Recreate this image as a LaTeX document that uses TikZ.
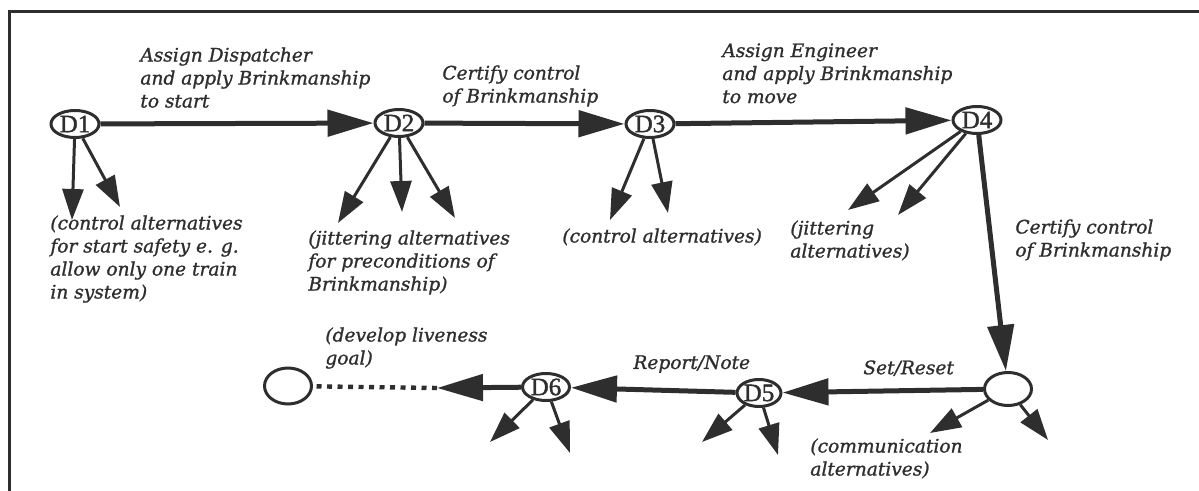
\documentclass[tikz,border=0pt]{standalone}
\usepackage{fontspec}
\setmainfont{DejaVu Serif}
\newfontfamily\lblfont{DejaVu Serif Italic}[FakeBold=1.2]
\newfontfamily\statefont{Liberation Serif}[FakeBold=1.5]
\usetikzlibrary{arrows.meta,shapes.geometric}
\definecolor{ink}{HTML}{2E2E2E}
\begin{document}
\begin{tikzpicture}[x=0.5pt,y=-0.5pt,color=ink,
  state/.style={ellipse,draw,line width=1.5pt,minimum width=24pt,minimum height=13.5pt,
    inner sep=0pt,font=\statefont\fontsize{12.5}{12.5}\selectfont},
  mainarrow/.style={line width=2.5pt,-{Triangle[length=23pt,width=13pt]}},
  altarrow/.style={line width=1.5pt,-{Triangle[length=15.5pt,width=10.5pt]}},
  lbl/.style={anchor=north west,inner sep=0pt,align=left,
    font=\lblfont\fontsize{9.3}{11.5}\selectfont}]
\useasboundingbox (0,0) rectangle (1199,491);

% frame
\draw[line width=1.5pt] (9,491) -- (9,12) -- (1199,12);

% decision states
\node[state] (D1) at (75,124) {D1};
\node[state] (D2) at (399,123) {D2};
\node[state] (D3) at (650,124) {D3};
\node[state] (D4) at (977,120) {D4};
\node[state,minimum width=23.5pt,minimum height=16.5pt] (E) at (1008,389) {};
\node[state,minimum width=22pt] (D5) at (759,393) {D5};
\node[state,minimum width=23.5pt] (D6) at (546,387) {D6};
\node[state,minimum width=23.5pt,minimum height=18pt] (G) at (288,386) {};
\coordinate (tip) at (437,388);

% main path
\draw[mainarrow] (D1) -- (D2);
\draw[mainarrow] (D2) -- (D3);
\draw[mainarrow] (D3) -- (D4);
\draw[mainarrow] (D4) -- (E);
\draw[mainarrow] (E) -- (D5);
\draw[mainarrow] (D5) -- (D6);
\draw[mainarrow] (D6) -- (tip);
\draw[line width=2.2pt,dash pattern=on 2.5pt off 2.75pt] (tip) -- (G);

% alternative branches
\coordinate (a1) at (72,220);   \coordinate (a2) at (120,207);
\coordinate (b1) at (338,223);  \coordinate (b2) at (402,212);  \coordinate (b3) at (455,218);
\coordinate (c1) at (610,220);  \coordinate (c2) at (668,213);
\coordinate (d1) at (848,210);  \coordinate (d2) at (898,215);
\coordinate (e1) at (930,433);  \coordinate (e2) at (1048,440);
\coordinate (f1) at (702,442);  \coordinate (f2) at (778,455);
\coordinate (g1) at (490,442);  \coordinate (g2) at (570,453);
\foreach \s/\t in {D1/a1,D1/a2,D2/b1,D2/b2,D2/b3,D3/c1,D3/c2,D4/d1,D4/d2,
                   E/e1,E/e2,D5/f1,D5/f2,D6/g1,D6/g2}
  \draw[altarrow] (\s) -- (\t);

% labels
\node[lbl] (l1) at (140,47) {Assign Dispatcher\\and apply Brinkmanship\\to start};
\node[lbl] (l2) at (442,65) {Certify control\\of Brinkmanship};
\node[lbl] (l3) at (722,43) {Assign Engineer\\and apply Brinkmanship\\to move};
\node[lbl] (l4) at (1015,219) {Certify control\\of Brinkmanship};
\node[lbl] (l5) at (790,220) {(jittering\\alternatives)};
\node[lbl] (l6) at (562,228) {(control alternatives)};
\node[lbl] (l7) at (50,215) {(control alternatives\\for start safety e. g.\\allow only one train\\in system)};
\node[lbl] (l8) at (308,230) {(jittering alternatives\\for preconditions of\\Brinkmanship)};
\node[lbl] (l9) at (325,327) {(develop liveness\\goal)};
\node[lbl] (l10) at (633,355) {Report/Note};
\node[lbl] (l11) at (863,360) {Set/Reset};
\node[lbl] (l12) at (810,438) {(communication\\alternatives)};
\end{tikzpicture}
\end{document}
